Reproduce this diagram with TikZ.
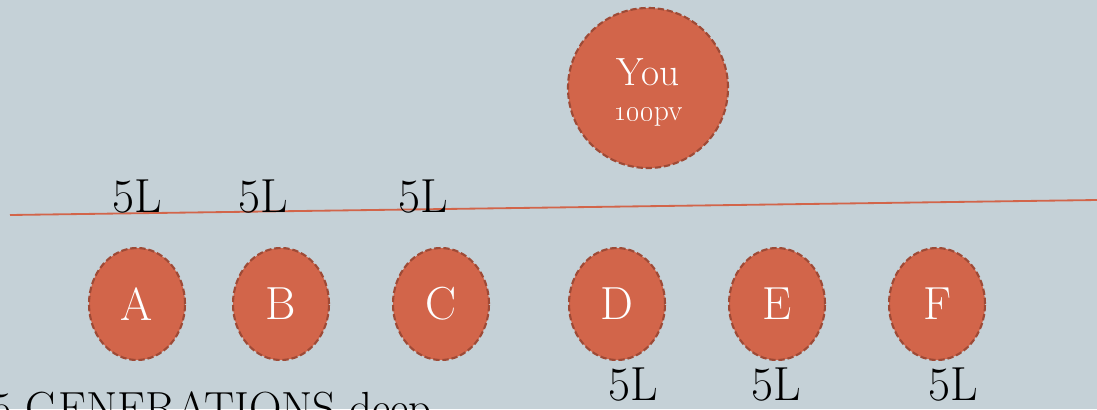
\documentclass[tikz,border=0pt]{standalone}
\usetikzlibrary{shapes.geometric}

\definecolor{bgblue}{HTML}{C5D1D7}
\definecolor{rust}{HTML}{D2654A}
\definecolor{rustdark}{HTML}{9E4A36}

\tikzset{
  member/.style={ellipse, draw=rustdark, fill=rust, line width=1.5pt,
    dash pattern=on 4.5pt off 2pt, minimum width=2.4cm, minimum height=2.8cm,
    inner sep=0pt, text=white, font=\fontsize{33}{38}\selectfont},
  lvl/.style={anchor=base, inner sep=0pt, font=\fontsize{34}{40}\selectfont},
}

\begin{document}
\begin{tikzpicture}[x=0.025cm, y=-0.025cm]
            \fill[bgblue] (0,0) rectangle (1097,409);
            \useasboundingbox (0,0) rectangle (1097,409);
            % top of the tree
            \node[member, circle, minimum size=4cm] (you) at (648,88) {};
            \node[anchor=base, inner sep=0pt, text=white, font=\fontsize{28}{32}\selectfont] (youname) at (648,85) {You};
            \node[anchor=base, inner sep=0pt, text=white, font=\fontsize{21}{24}\selectfont] (youpv) at (648,120) {\oldstylenums{100}pv};
            % dividing line
            \coordinate (lineL) at (10,215);
            \coordinate (lineR) at (1097,200);
            \draw[rust, line width=1.3pt] (lineL) -- (lineR);
            % first line members
            \node[member] (a) at (137,304) {A};
            \node[member] (b) at (281,304) {B};
            \node[member] (c) at (441,304) {C};
            \node[member] (d) at (617,304) {D};
            \node[member] (e) at (777,304) {E};
            \node[member] (f) at (937,304) {F};
            % depth labels
            \node[lvl] (la) at (137,212) {5L};
            \node[lvl] (lb) at (263,212) {5L};
            \node[lvl] (lc) at (423,212) {5L};
            \node[lvl] (ld) at (633,400) {5L};
            \node[lvl] (le) at (776,400) {5L};
            \node[lvl] (lf) at (953,400) {5L};
            \node[anchor=base east, inner sep=0pt, font=\fontsize{32}{38}\selectfont] (deep) at (432,423) {5 GENERATIONS deep};
        \end{tikzpicture}
\end{document}
